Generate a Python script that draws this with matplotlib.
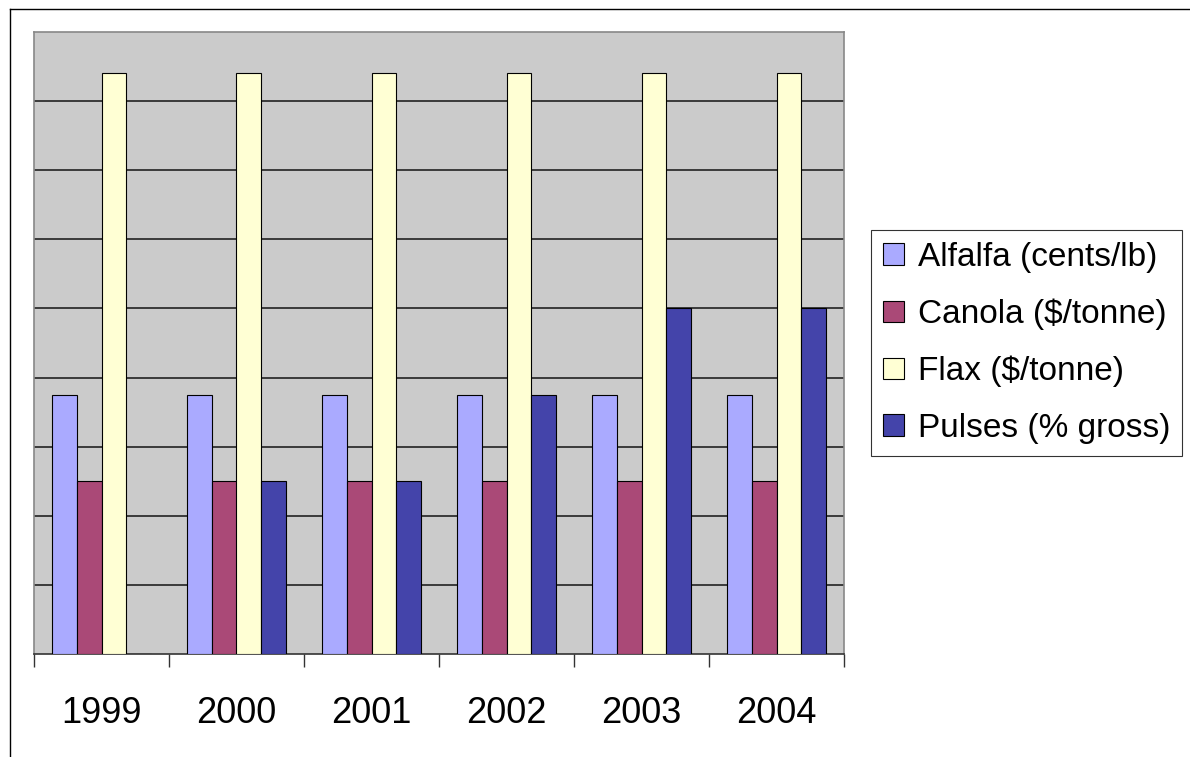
import numpy as np
import matplotlib.pyplot as plt
from matplotlib.lines import Line2D

plt.rcParams['font.family'] = ['Liberation Sans', 'DejaVu Sans']

years = ['1999', '2000', '2001', '2002', '2003', '2004']
alfalfa = [3.75, 3.75, 3.75, 3.75, 3.75, 3.75]
canola = [2.5, 2.5, 2.5, 2.5, 2.5, 2.5]
flax = [8.4, 8.4, 8.4, 8.4, 8.4, 8.4]
pulses = [0, 2.5, 2.5, 3.75, 5.0, 5.0]

series = [
    ('Alfalfa (cents/lb)', alfalfa, '#AAAAFF'),
    ('Canola ($/tonne)', canola, '#AA4977'),
    ('Flax ($/tonne)', flax, '#FFFFD4'),
    ('Pulses (% gross)', pulses, '#4444AA'),
]

fig = plt.figure(figsize=(11.9, 7.57), dpi=100)
ax = fig.add_axes([34 / 1190, 103 / 757, 810 / 1190, 622 / 757])
ax.set_facecolor('#CBCBCB')

x = np.arange(len(years))
bw = 1 / 5.5
for i, (name, vals, col) in enumerate(series):
    ax.bar(x - 2 * bw + (i + 0.5) * bw, vals, width=bw, color=col,
           edgecolor='black', linewidth=0.8, label=name, zorder=3)

ax.set_xlim(-0.5, len(years) - 0.5)
ax.set_ylim(0, 9)
ax.set_yticks(np.arange(1, 9))
ax.yaxis.grid(True, color='#222222', linewidth=1.2, zorder=1)
ax.tick_params(axis='y', left=False, labelleft=False)

# year labels at the centres, tick marks on the category boundaries
ax.set_xticks(x)
ax.set_xticklabels(years, fontsize=26)
ax.set_xticks(np.arange(-0.5, len(years)), minor=True)
ax.tick_params(axis='x', which='major', length=0, pad=30)
ax.tick_params(axis='x', which='minor', length=9, width=1, color='#333333')

for side in ['top', 'left', 'right']:
    ax.spines[side].set_color('#888888')
    ax.spines[side].set_linewidth(1.2)
ax.spines['bottom'].set_color('#333333')
ax.spines['bottom'].set_linewidth(1.2)

# outer chart frame
fig.add_artist(Line2D([10 / 1190, 10 / 1190], [0, 1 - 9 / 757], color='black', linewidth=1))
fig.add_artist(Line2D([10 / 1190, 1], [1 - 9 / 757, 1 - 9 / 757], color='black', linewidth=1))

leg = fig.legend(loc='upper left', bbox_to_anchor=(871 / 1190, 1 - 230 / 757),
                 fontsize=24, frameon=True, fancybox=False, edgecolor='black',
                 handlelength=0.62, handleheight=0.62, handletextpad=0.42,
                 labelspacing=0.77, borderpad=0.36, borderaxespad=0)
leg.get_frame().set_linewidth(0.8)

fig.savefig('out.png', dpi=100)
